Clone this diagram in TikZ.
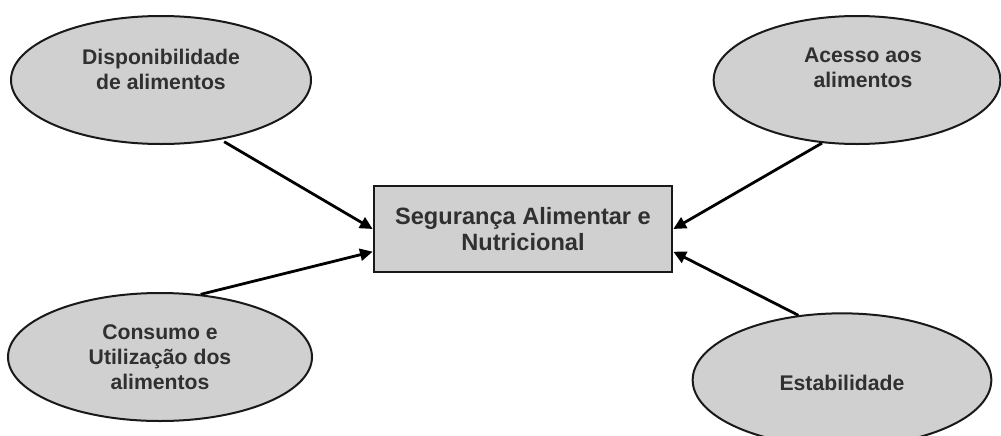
\documentclass[tikz,border=0pt]{standalone}
\usepackage{fontspec}
\setmainfont{Liberation Sans}
\usepackage{xcolor}
\usetikzlibrary{shapes.geometric,arrows.meta}

\definecolor{cinzapilar}{RGB}{208,208,208}
\definecolor{texto}{RGB}{48,48,48}
\definecolor{contorno}{RGB}{25,25,25}

\tikzset{
  pilar/.style={ellipse, draw=contorno, line width=1.5pt, fill=cinzapilar,
    inner sep=0pt, minimum height=96pt},
  rotulo/.style={align=center, text=texto, inner sep=0pt,
    font=\fontsize{15.9}{18.75}\selectfont\bfseries},
  central/.style={rectangle, draw=contorno, line width=1.5pt, fill=cinzapilar,
    minimum width=224pt, minimum height=64pt, align=center, text=texto,
    font=\fontsize{17.7}{19.5}\selectfont\bfseries},
  seta/.style={line width=2.1pt, draw=black, -{Triangle[length=9.5pt,width=9pt]}}
}

\begin{document}
\begin{tikzpicture}[x=0.75pt, y=-0.75pt]
  \useasboundingbox (0,0) rectangle (1001,436);

  \node[central] (san) at (523,229) {Segurança Alimentar e\\Nutricional} ; %

  \node[pilar, minimum width=225pt] (disp) at (161,80) {} ; %
  \node[pilar, minimum width=215pt] (aces) at (857,80) {} ; %
  \node[pilar, minimum width=228pt] (cons) at (160,357) {} ; %
  \node[pilar, minimum width=224pt, minimum height=100pt] (estab) at (842,380) {} ; %

  \node[rotulo] (disp-txt) at ([yshift=8pt]disp.center) {Disponibilidade\\de alimentos} ; %
  \node[rotulo] (aces-txt) at ([xshift=4.5pt,yshift=9pt]aces.center) {Acesso aos\\alimentos} ; %
  \node[rotulo] (cons-txt) at (cons.center) {Consumo e\\Utilização dos\\alimentos} ; %
  \node[rotulo] (estab-txt) at ([yshift=-2pt]estab.center) {Estabilidade} ; %

  \draw[seta, shorten <=3pt] (disp.-45) -- (san.west) ;
  \draw[seta] (cons.57) -- ([yshift=-17pt]san.west) ;
  \draw[seta] (aces.-119) -- (san.east) ;
  \draw[seta] (estab.124) -- ([yshift=-17pt]san.east) ;

\end{tikzpicture}
\end{document}
